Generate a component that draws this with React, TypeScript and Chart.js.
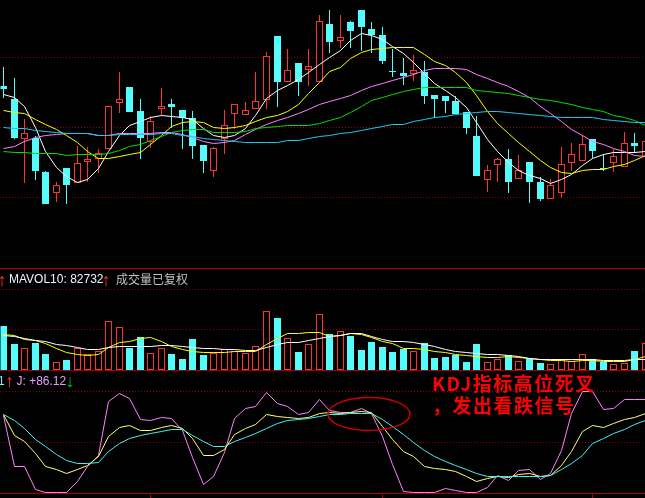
import React, { useEffect, useRef } from "react";
import { Chart, registerables } from "chart.js";

Chart.register(...registerables);

// ================= DATA =================
// daily candles (price)
const openPrice = [
  12.41, 12.28, 11.88, 11.89, 11.55, 11.34, 11.59, 11.44, 11.65, 11.68,
  11.78, 12.24, 12.40, 12.16, 11.85, 12.18, 12.23, 12.17, 12.09, 11.82,
  11.56, 11.88, 12.13, 12.12, 12.18, 12.27, 12.91, 12.45, 12.64, 12.57,
  12.45, 13.03, 12.86, 13.05, 13.17, 12.98, 12.92, 12.56, 12.54, 12.53,
  12.55, 12.32, 12.31, 12.26, 12.15, 11.91, 11.47, 11.62, 11.68, 11.48,
  11.65, 11.45, 11.28, 11.34, 11.64, 11.66, 11.88, 11.59, 11.64, 11.60,
  11.84, 11.70,
];
const highPrice = [
  12.60, 12.49, 12.08, 11.91, 11.56, 11.45, 11.59, 11.81, 11.80, 11.78,
  12.21, 12.55, 12.40, 12.28, 12.11, 12.39, 12.28, 12.17, 12.16, 11.82,
  11.80, 12.17, 12.23, 12.25, 12.55, 12.75, 12.91, 12.78, 12.64, 12.78,
  13.12, 13.17, 13.12, 13.06, 13.17, 13.05, 13.00, 12.78, 12.69, 12.72,
  12.66, 12.32, 12.31, 12.31, 12.15, 12.11, 11.62, 11.69, 11.78, 11.72,
  11.65, 11.50, 11.48, 11.80, 11.84, 11.92, 11.88, 11.73, 11.78, 11.95,
  11.94, 12.02,
];
const lowPrice = [
  12.29, 11.88, 11.44, 11.47, 11.23, 11.25, 11.23, 11.44, 11.45, 11.54,
  11.78, 12.14, 12.15, 11.68, 11.79, 12.12, 11.99, 11.78, 11.68, 11.54,
  11.50, 11.73, 11.98, 12.12, 12.18, 12.18, 12.20, 12.45, 12.31, 12.41,
  12.45, 12.74, 12.79, 12.79, 12.76, 12.74, 12.63, 12.50, 12.42, 12.46,
  12.23, 12.09, 12.14, 12.13, 11.93, 11.51, 11.35, 11.45, 11.34, 11.48,
  11.24, 11.26, 11.28, 11.29, 11.56, 11.66, 11.69, 11.56, 11.55, 11.60,
  11.74, 11.70,
];
const closePrice = [
  12.38, 11.89, 11.94, 11.56, 11.23, 11.42, 11.42, 11.64, 11.68, 11.74,
  12.21, 12.28, 12.15, 11.89, 12.06, 12.21, 12.20, 12.09, 11.81, 11.66,
  11.79, 12.02, 12.23, 12.17, 12.26, 12.71, 12.45, 12.57, 12.45, 12.61,
  13.06, 12.85, 12.90, 12.96, 13.00, 12.92, 12.66, 12.55, 12.51, 12.57,
  12.31, 12.28, 12.26, 12.13, 11.99, 11.51, 11.57, 11.68, 11.45, 11.57,
  11.45, 11.28, 11.42, 11.63, 11.73, 11.83, 11.76, 11.58, 11.71, 11.84,
  11.81, 11.86,
];

// moving averages of price
const ma5 = [
  12.33, 12.30, 12.21, 12.00, 11.76, 11.60, 11.51, 11.45, 11.48, 11.59,
  11.76, 11.92, 12.02, 12.06, 12.10, 12.12, 12.11, 12.10, 12.08, 11.99,
  11.92, 11.90, 11.92, 11.99, 12.12, 12.29, 12.37, 12.42, 12.48, 12.55,
  12.63, 12.70, 12.77, 12.87, 12.94, 12.92, 12.88, 12.81, 12.74, 12.65,
  12.54, 12.44, 12.37, 12.30, 12.20, 12.05, 11.88, 11.76, 11.65, 11.57,
  11.52, 11.49, 11.44, 11.48, 11.53, 11.62, 11.69, 11.73, 11.75, 11.75,
  11.75, 11.76,
];
const ma10 = [
  12.17, 12.15, 12.14, 12.08, 12.03, 11.98, 11.92, 11.85, 11.76, 11.69,
  11.69, 11.71, 11.73, 11.75, 11.83, 11.92, 12.01, 12.05, 12.06, 12.05,
  12.00, 11.99, 12.00, 12.02, 12.06, 12.10, 12.12, 12.16, 12.23, 12.34,
  12.45, 12.56, 12.60, 12.69, 12.75, 12.78, 12.79, 12.80, 12.80, 12.80,
  12.73, 12.66, 12.62, 12.55, 12.45, 12.32, 12.16, 12.04, 11.94, 11.85,
  11.76, 11.67, 11.60, 11.55, 11.54, 11.57, 11.58, 11.58, 11.61, 11.63,
  11.67, 11.72,
];
const ma20 = [
  11.79, 11.81, 11.86, 11.90, 11.92, 11.93, 11.94, 11.94, 11.94, 11.92,
  11.92, 11.94, 11.94, 11.94, 11.94, 11.95, 11.95, 11.93, 11.90, 11.86,
  11.84, 11.85, 11.87, 11.93, 11.98, 12.03, 12.07, 12.10, 12.14, 12.18,
  12.23, 12.26, 12.29, 12.32, 12.37, 12.41, 12.44, 12.47, 12.50, 12.53,
  12.57, 12.59, 12.59, 12.59, 12.58, 12.53, 12.49, 12.45, 12.41, 12.36,
  12.30, 12.21, 12.14, 12.06, 11.98, 11.92, 11.86, 11.83, 11.79, 11.76,
  11.72, 11.71,
];
const ma30 = [
  11.76, 11.75, 11.75, 11.74, 11.74, 11.74, 11.72, 11.73, 11.73, 11.73,
  11.74, 11.77, 11.81, 11.83, 11.87, 11.91, 11.95, 11.97, 11.98, 11.98,
  11.95, 11.95, 11.95, 11.96, 11.99, 12.00, 12.01, 12.02, 12.02, 12.02,
  12.04, 12.07, 12.10, 12.15, 12.21, 12.27, 12.30, 12.33, 12.36, 12.38,
  12.40, 12.40, 12.40, 12.40, 12.40, 12.37, 12.36, 12.35, 12.34, 12.32,
  12.30, 12.28, 12.27, 12.25, 12.23, 12.20, 12.18, 12.16, 12.12, 12.10,
  12.07, 12.02,
];
const ma60 = [
  12.00, 11.99, 11.99, 11.97, 11.96, 11.95, 11.94, 11.94, 11.94, 11.92,
  11.92, 11.93, 11.93, 11.93, 11.93, 11.94, 11.94, 11.92, 11.91, 11.89,
  11.88, 11.87, 11.86, 11.85, 11.85, 11.85, 11.85, 11.87, 11.87, 11.89,
  11.91, 11.92, 11.94, 11.95, 11.97, 11.99, 12.01, 12.03, 12.03, 12.06,
  12.08, 12.10, 12.11, 12.13, 12.14, 12.15, 12.16, 12.16, 12.15, 12.14,
  12.13, 12.12, 12.11, 12.10, 12.10, 12.10, 12.10, 12.08, 12.07, 12.06,
  12.05, 12.05,
];

// volume
const volume = [
  323500, 191200, 159600, 198500, 117600, 56600, 73500, 159600, 115400, 139700,
  365400, 321300, 161800, 244900, 122800, 159600, 117600, 80900, 227900, 110300,
  122800, 152200, 141900, 122800, 174300, 439000, 382400, 233100, 132400, 189000,
  411800, 264700, 286800, 250000, 147100, 205900, 169100, 132400, 156600, 139700,
  198500, 88200, 95600, 110300, 58800, 191200, 58800, 80900, 110300, 66200,
  80900, 51500, 41900, 78700, 66200, 115400, 78700, 58800, 41900, 49300,
  139700, 196300,
];
const mavol5 = [
  268400, 257400, 231600, 224300, 202200, 165400, 132400, 116200, 110300, 117600,
  169100, 209600, 215400, 239000, 240400, 216900, 176500, 154400, 143400, 136000,
  134600, 134600, 137500, 141900, 143400, 191200, 239000, 270600, 273500, 279400,
  280100, 253700, 260300, 273500, 266200, 240400, 215400, 196300, 160300, 159600,
  157400, 143400, 134600, 119100, 108800, 104400, 98500, 95600, 101500, 98500,
  86800, 78700, 73500, 71300, 68400, 70600, 73500, 69900, 68400, 68400,
  82400, 102900,
];
const mavol10 = [
  257400, 253700, 235300, 218400, 211000, 194900, 183800, 169100, 158100, 152200,
  169100, 176500, 176500, 176500, 180100, 183800, 182400, 175000, 169100, 163200,
  159600, 155900, 152200, 145600, 150700, 171300, 191200, 205900, 208100, 220600,
  235300, 247800, 261800, 275700, 270600, 250000, 225700, 215400, 215400, 207400,
  191200, 174300, 158100, 143400, 135300, 127900, 119900, 114700, 109600, 100700,
  89700, 83800, 81600, 80100, 78700, 78700, 77900, 75700, 73500, 73500,
  79400, 82732,
];

// KDJ
const kValues = [
  77.2, 56.6, 50.5, 38.3, 25.5, 22.7, 19.3, 22.5, 26.6, 35.3,
  55.4, 64.2, 66.7, 61.8, 61.8, 64.4, 66.2, 63.2, 53.4, 36.3,
  36.3, 42.6, 57.4, 63.2, 67.0, 77.0, 74.8, 74.2, 73.2, 73.8,
  78.4, 78.9, 78.1, 79.2, 80.4, 78.9, 65.0, 52.9, 40.2, 35.3,
  25.5, 24.2, 22.3, 20.8, 15.5, 10.8, 13.7, 15.9, 15.0, 17.6,
  18.6, 15.7, 16.7, 26.5, 40.2, 60.8, 66.2, 64.7, 68.6, 72.5,
  74.7, 78.1,
];
const dValues = [
  76.8, 71.6, 63.2, 52.5, 45.6, 37.7, 31.9, 28.7, 28.4, 29.4,
  40.2, 48.5, 53.6, 56.9, 58.5, 60.6, 62.0, 62.5, 56.9, 50.3,
  46.0, 45.1, 50.3, 54.9, 58.8, 63.7, 68.4, 71.0, 72.3, 73.2,
  75.2, 77.0, 77.5, 77.8, 78.1, 78.1, 72.0, 65.0, 57.8, 49.3,
  41.5, 35.4, 30.5, 26.5, 23.2, 18.5, 16.2, 16.2, 16.0, 16.0,
  16.0, 16.2, 16.7, 22.4, 28.9, 36.5, 49.0, 53.6, 58.1, 62.6,
  67.5, 70.9,
];
const jValues = [
  76.5, 25.8, 25.8, 3.4, 0, 0, 0, 11.3, 25.5, 36.8,
  90.2, 98.5, 92.8, 72.3, 70.9, 73.8, 73.0, 61.3, 34.3, 7.8,
  15.7, 39.2, 73.2, 83.3, 85.3, 99.0, 87.9, 85.1, 77.3, 79.4,
  92.2, 81.4, 79.7, 79.7, 83.6, 77.9, 55.4, 27.5, 1.3, 0,
  0, 0, 3.6, 2.0, 0, 0, 4.9, 16.7, 12.3, 21.6,
  23.0, 12.7, 18.6, 41.2, 78.4, 100, 100, 82.1, 83.0, 91.9,
  91.9, 91.9,
];

// grid levels and time ticks
const priceGridLevels = [12.7, 12.0, 11.3];
const volumeGridLevels = [600000, 300000];
const kdjGridLevels = [100, 50];
const monthStartIndex = [14, 36, 56];

// annotation anchored on the KDJ dead cross
const crossIndex = 34.8;
const crossValue = 77.2;

// ================= STYLE =================
const UP_COLOR = "#ff3232";
const DOWN_COLOR = "#54fcfc";
const GRID_COLOR = "#920000";
const SEP_COLOR = "#a80000";
const X_MIN = -0.2852;
const X_MAX = 61.027;

const idx = openPrice.map((_, i) => i);
const isUp = idx.map((i) => closePrice[i] >= openPrice[i]);

const pixelSnap = {
  id: "pixelSnap",
  beforeDatasetDraw(chart: any, args: any) {
    const ctx = chart.ctx;
    ctx.save();
    if (args.meta.type === "bar") ctx.translate(0.5, 0);
    else ctx.translate(0.5, 0.5);
  },
  afterDatasetDraw(chart: any) {
    chart.ctx.restore();
  },
};

function dottedGrid(levels: number[]) {
  return {
    id: "dottedGrid",
    beforeDatasetsDraw(chart: any) {
      const { ctx, chartArea, scales } = chart;
      ctx.save();
      ctx.strokeStyle = GRID_COLOR;
      ctx.lineWidth = 1;
      ctx.setLineDash([1, 2]);
      levels.forEach((v) => {
        const y = Math.floor(scales.y.getPixelForValue(v)) + 0.5;
        ctx.beginPath();
        ctx.moveTo(chartArea.left, y);
        ctx.lineTo(chartArea.right, y);
        ctx.stroke();
      });
      ctx.restore();
    },
  };
}

const kdjDecor = {
  id: "kdjDecor",
  afterDatasetsDraw(chart: any) {
    const { ctx, chartArea, scales } = chart;
    ctx.save();
    const cx = scales.x.getPixelForValue(crossIndex);
    const cy = scales.y.getPixelForValue(crossValue);
    ctx.strokeStyle = "#cc0000";
    ctx.lineWidth = 1.5;
    ctx.beginPath();
    ctx.ellipse(cx, cy, 41, 16.5, 0, 0, Math.PI * 2);
    ctx.stroke();
    ctx.strokeStyle = SEP_COLOR;
    ctx.lineWidth = 1;
    monthStartIndex.forEach((i) => {
      const x = Math.round(scales.x.getPixelForValue(i)) + 0.5;
      ctx.beginPath();
      ctx.moveTo(x, chartArea.bottom);
      ctx.lineTo(x, chart.height);
      ctx.stroke();
    });
    ctx.restore();
  },
};

function baseOptions(yMin: number, yMax: number, bottomPad = 0): any {
  return {
    animation: false,
    responsive: false,
    maintainAspectRatio: false,
    events: [],
    layout: { padding: { left: 0, right: 0, top: 0, bottom: bottomPad } },
    plugins: { legend: { display: false }, tooltip: { enabled: false }, title: { display: false } },
    scales: {
      x: { type: "linear", min: X_MIN, max: X_MAX, display: false, offset: false, alignToPixels: true },
      y: { type: "linear", min: yMin, max: yMax, display: false, alignToPixels: true },
    },
  };
}

function lineSet(values: number[], color: string): any {
  return {
    type: "line",
    data: idx.map((i) => ({ x: i, y: values[i] })),
    borderColor: color,
    borderWidth: 1,
    pointRadius: 0,
    tension: 0,
    fill: false,
    order: 0,
  };
}

export default function App() {
  const mainRef = useRef<HTMLCanvasElement>(null);
  const volRef = useRef<HTMLCanvasElement>(null);
  const kdjRef = useRef<HTMLCanvasElement>(null);

  useEffect(() => {
    document.body.style.margin = "0";
    document.body.style.background = "#000";

    const main = new Chart(mainRef.current as HTMLCanvasElement, {
      type: "bar",
      data: {
        datasets: [
          {
            type: "bar",
            data: idx.map((i) => ({ x: i, y: [lowPrice[i], highPrice[i]] })),
            backgroundColor: idx.map((i) => (isUp[i] ? UP_COLOR : DOWN_COLOR)),
            borderWidth: 0,
            grouped: false,
            barThickness: 1,
            maxBarThickness: 1,
            inflateAmount: 0,
            order: 2,
          },
          {
            type: "bar",
            data: idx.map((i) => ({ x: i, y: [openPrice[i], closePrice[i]] })),
            backgroundColor: idx.map((i) => (isUp[i] ? "#000000" : DOWN_COLOR)),
            borderColor: idx.map((i) => (isUp[i] ? UP_COLOR : DOWN_COLOR)),
            borderWidth: 1,
            borderSkipped: false,
            grouped: false,
            barThickness: 7,
            maxBarThickness: 7,
            inflateAmount: 0,
            order: 1,
          },
          lineSet(ma60, "#1ccbf0"),
          lineSet(ma30, "#00e000"),
          lineSet(ma20, "#ff80ff"),
          lineSet(ma10, "#ffff00"),
          lineSet(ma5, "#ffffff"),
        ] as any,
      },
      options: baseOptions(10.59, 13.27),
      plugins: [dottedGrid(priceGridLevels), pixelSnap],
    } as any);

    const vol = new Chart(volRef.current as HTMLCanvasElement, {
      type: "bar",
      data: {
        datasets: [
          {
            type: "bar",
            data: idx.map((i) => ({ x: i, y: volume[i] })),
            backgroundColor: idx.map((i) => (isUp[i] ? "#000000" : DOWN_COLOR)),
            borderColor: idx.map((i) => (isUp[i] ? UP_COLOR : DOWN_COLOR)),
            borderWidth: 1,
            borderSkipped: false,
            grouped: false,
            barThickness: 7,
            maxBarThickness: 7,
            inflateAmount: 0,
            order: 1,
          },
          lineSet(mavol10, "#ffffff"),
          lineSet(mavol5, "#ffff00"),
        ] as any,
      },
      options: baseOptions(0, 754000),
      plugins: [dottedGrid(volumeGridLevels), pixelSnap],
    } as any);

    const kdj = new Chart(kdjRef.current as HTMLCanvasElement, {
      type: "line",
      data: {
        datasets: [
          lineSet(dValues, "#44f0f0"),
          lineSet(kValues, "#ffff70"),
          lineSet(jValues, "#ff80ff"),
        ],
      },
      options: baseOptions(-1.98, 120.792, 4),
      plugins: [dottedGrid(kdjGridLevels), pixelSnap, kdjDecor],
    } as any);

    return () => {
      main.destroy();
      vol.destroy();
      kdj.destroy();
    };
  }, []);

  const latin: React.CSSProperties = {
    position: "absolute",
    whiteSpace: "nowrap",
    fontFamily: '"Liberation Sans", Arial, sans-serif',
    fontSize: 12,
    lineHeight: "12px",
  };
  const arrow: React.CSSProperties = {
    position: "absolute",
    whiteSpace: "nowrap",
    fontFamily: '"Liberation Sans", Arial, sans-serif',
    fontSize: 18,
    lineHeight: "18px",
  };
  const cjkSmall: React.CSSProperties = {
    position: "absolute",
    whiteSpace: "nowrap",
    fontFamily: '"Noto Sans CJK SC", sans-serif',
    fontSize: 12,
    lineHeight: "12px",
  };
  const note: React.CSSProperties = {
    position: "absolute",
    whiteSpace: "nowrap",
    fontFamily: '"Noto Sans CJK SC", sans-serif',
    fontWeight: 700,
    fontSize: 19,
    lineHeight: "19px",
    letterSpacing: "1.5px",
    color: "#ff0000",
  };
  const sep = (top: number): React.CSSProperties => ({
    position: "absolute",
    left: 0,
    top,
    width: 645,
    height: 1,
    background: SEP_COLOR,
  });

  return (
    <div
      style={{
        position: "fixed",
        left: 0,
        top: 0,
        width: 645,
        height: 498,
        background: "#000",
        overflow: "hidden",
      }}
    >
      <canvas ref={mainRef} width={645} height={268} style={{ position: "absolute", left: 0, top: 0 }} />
      <canvas ref={volRef} width={645} height={102} style={{ position: "absolute", left: 0, top: 268 }} />
      <canvas ref={kdjRef} width={645} height={128} style={{ position: "absolute", left: 0, top: 370 }} />

      <div style={sep(268)} />
      <div style={sep(370)} />
      <div style={sep(493)} />

      {/* volume panel title */}
      <span style={{ ...arrow, left: -2.5, top: 271, color: UP_COLOR }}>↑</span>
      <span style={{ ...latin, left: 9, top: 272.5, color: "#f0f4ff" }}>MAVOL10: 82732</span>
      <span style={{ ...arrow, left: 101.5, top: 271, color: UP_COLOR }}>↑</span>
      <span style={{ ...cjkSmall, left: 116, top: 272.5, color: "#c0c0c0" }}>成交量已复权</span>

      {/* KDJ panel title */}
      <span style={{ ...latin, left: -2, top: 374.5, color: "#80e8ff" }}>1</span>
      <span style={{ ...arrow, left: 5, top: 372, color: UP_COLOR }}>↑</span>
      <span style={{ ...latin, left: 16.5, top: 374.5, color: "#e0a0ff" }}>J: +86.12</span>
      <span style={{ ...arrow, left: 65.5, top: 372, color: "#00c000" }}>↓</span>

      {/* annotation */}
      <div style={{ ...note, left: 432, top: 372.5 }}>KDJ指标高位死叉</div>
      <div style={{ ...note, left: 432, top: 394.5 }}>，发出看跌信号</div>
    </div>
  );
}
